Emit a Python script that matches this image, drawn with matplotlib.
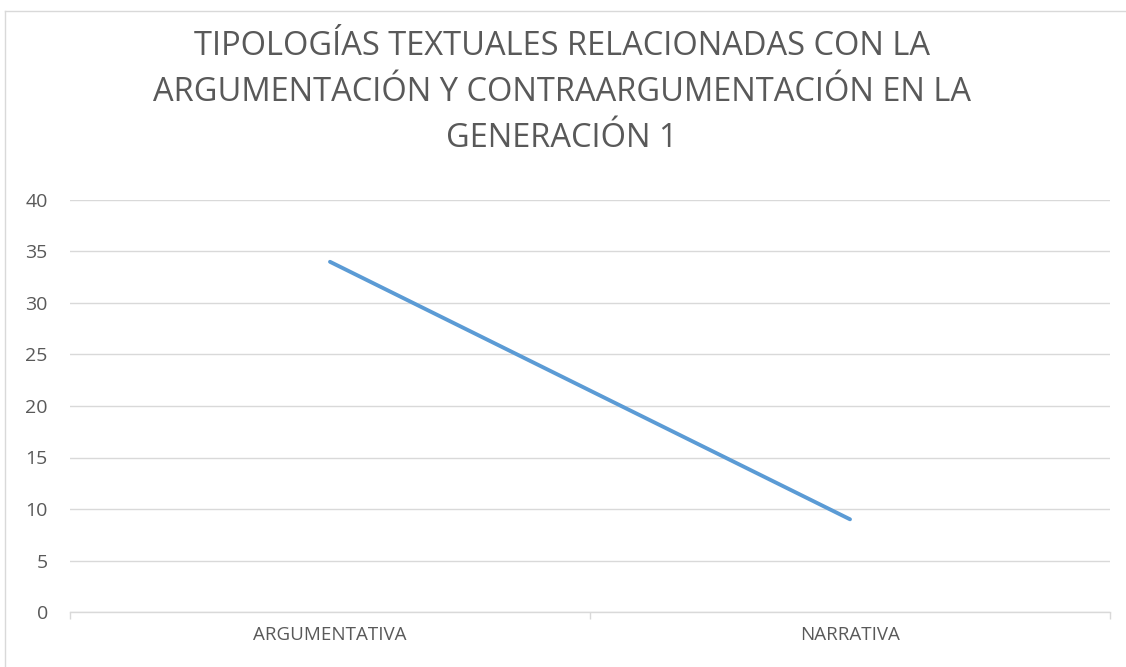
import matplotlib.pyplot as plt
from matplotlib.lines import Line2D

# Chart data
categories = ['ARGUMENTATIVA', 'NARRATIVA']
values = [34, 9]
y_ticks = [0, 5, 10, 15, 20, 25, 30, 35, 40]
title = ('TIPOLOGÍAS TEXTUALES RELACIONADAS CON LA\n'
         'ARGUMENTACIÓN Y CONTRAARGUMENTACIÓN EN LA\n'
         'GENERACIÓN 1')

plt.rcParams['font.family'] = ['Open Sans', 'DejaVu Sans']
grey_text = '#595959'
grid_col = '#D9D9D9'

fig = plt.figure(figsize=(11.26, 6.67), dpi=100)
ax = fig.add_axes([70 / 1126, 1 - 612 / 667, 1040 / 1126, 412 / 667])

x = list(range(len(categories)))
ax.plot(x, values, color='#5B9BD5', lw=2.8, solid_capstyle='round')

ax.set_xlim(-0.5, len(categories) - 0.5)
ax.set_ylim(0, 40)
ax.set_yticks(y_ticks)
ax.set_yticklabels([str(v) for v in y_ticks], fontsize=14, color=grey_text)
ax.tick_params(axis='y', length=0, pad=16)
ax.grid(axis='y', color=grid_col, lw=1)
ax.set_axisbelow(True)

# category labels between boundary ticks
ax.set_xticks([i - 0.5 for i in range(len(categories) + 1)])
ax.set_xticklabels([])
ax.set_xticks(x, minor=True)
ax.set_xticklabels(categories, minor=True, fontsize=13.5, color=grey_text)
ax.tick_params(axis='x', which='major', length=5, color=grid_col, width=1)
ax.tick_params(axis='x', which='minor', length=0, pad=10)

for s in ['top', 'right', 'left']:
    ax.spines[s].set_visible(False)
ax.spines['bottom'].set_color(grid_col)
ax.spines['bottom'].set_linewidth(1)

fig.text(0.499, 1 - 30 / 667, title, ha='center', va='top', fontsize=23.5,
         color=grey_text, linespacing=1.52)

# chart border (top and left visible)
fig.add_artist(Line2D([5 / 1126, 5 / 1126], [0, 1 - 11 / 667],
                      transform=fig.transFigure, color=grid_col, lw=1))
fig.add_artist(Line2D([5 / 1126, 1], [1 - 11 / 667, 1 - 11 / 667],
                      transform=fig.transFigure, color=grid_col, lw=1))

fig.savefig('out.png', dpi=100)
